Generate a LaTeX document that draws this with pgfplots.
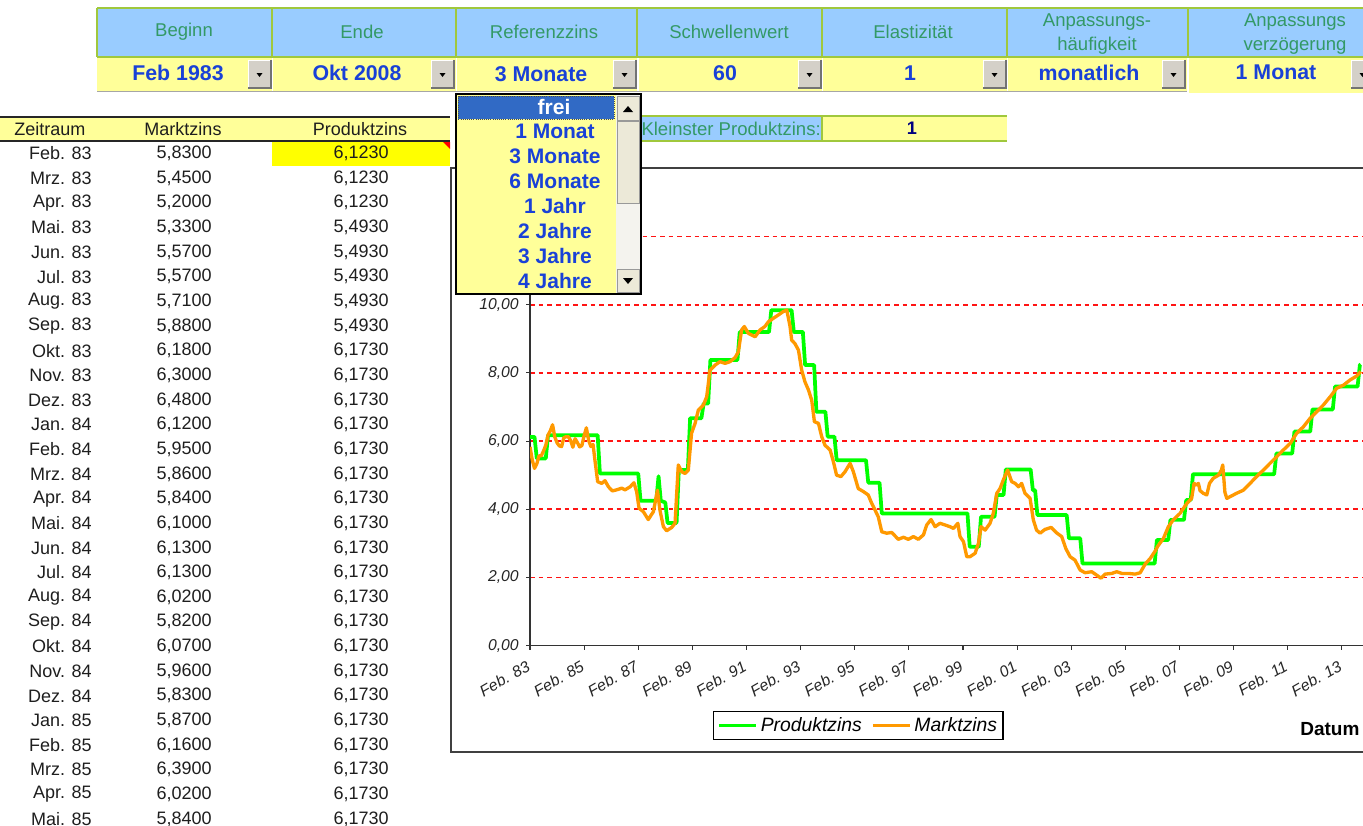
\documentclass[border=0pt]{standalone}
\usepackage{pgfplots}
\pgfplotsset{compat=1.18}
\usepackage{fontspec}
\setmainfont{Liberation Sans}
\definecolor{hdrblue}{RGB}{153,204,255}
\definecolor{hdrtext}{RGB}{51,153,102}
\definecolor{bordergreen}{RGB}{160,200,60}
\definecolor{cellyellow}{RGB}{255,255,153}
\definecolor{brightyellow}{RGB}{255,255,0}
\definecolor{valblue}{RGB}{25,65,215}
\definecolor{navyv}{RGB}{0,0,128}
\definecolor{btngray}{RGB}{212,208,200}
\definecolor{selblue}{RGB}{49,106,197}
\definecolor{scrolltrack}{RGB}{244,243,238}
\definecolor{scrollbtn}{RGB}{236,233,216}
\definecolor{prodgreen}{RGB}{0,255,0}
\definecolor{marktorange}{RGB}{255,153,0}
\definecolor{tabtxt}{RGB}{30,30,30}
\definecolor{gridred}{RGB}{255,20,20}
\newcommand\tblfont{\fontsize{13.5pt}{16pt}\selectfont}
\newcommand\hdrfont{\fontsize{13.9pt}{18.5pt}\selectfont}
\newcommand\valfont{\fontsize{16pt}{19pt}\selectfont\bfseries}
\newcommand\ddfont{\fontsize{15.75pt}{18pt}\selectfont\bfseries}
\newcommand\ticfont{\fontsize{11.8pt}{13pt}\selectfont\itshape}
\newcommand\legfont{\fontsize{14.5pt}{16pt}\selectfont\itshape}
\newcommand\datfont{\fontsize{14.25pt}{16pt}\selectfont\bfseries}
\newcommand\ddbtn[2]{%
  \fill[btngray] (#1,#2) rectangle ++(23,28);
  \draw[white, line width=0.75pt] (#1,#2+28) -- (#1,#2) -- (#1+23,#2);
  \draw[black!55, line width=0.9pt] (#1,#2+28) -- (#1+23,#2+28) -- (#1+23,#2);
  \fill[black] (#1+8.5,#2+13) -- (#1+14.5,#2+13) -- (#1+11.5,#2+17) -- cycle;
}
\begin{document}
\begin{tikzpicture}
\useasboundingbox (0pt,0pt) rectangle (1022.25pt,-618.75pt);
\begin{scope}
\clip (0pt,0pt) rectangle (1022.25pt,-618.75pt);
\begin{scope}[x=0.75pt,y=-0.75pt]
  \fill[hdrblue] (97,8) rectangle (1370,57);
  \draw[bordergreen, line width=1pt] (97,8) -- (1370,8);
  \foreach \xa in {97,272,456,637,822,1007,1188}
    \draw[bordergreen, line width=1pt] (\xa,8) -- (\xa,57);
  \node[font=\hdrfont, text=hdrtext] at (184,32) {Beginn};
  \node[font=\hdrfont, text=hdrtext] at (362,32) {Ende};
  \node[font=\hdrfont, text=hdrtext] at (544,32) {Referenzzins};
  \node[font=\hdrfont, text=hdrtext] at (729,32) {Schwellenwert};
  \node[font=\hdrfont, text=hdrtext] at (913,32) {Elastizität};
  \node[font=\hdrfont, text=hdrtext, align=center] at (1097,34) {Anpassungs-\\häufigkeit};
  \node[font=\hdrfont, text=hdrtext, align=center] at (1295,34) {Anpassungs\\verzögerung};
  \fill[cellyellow] (97,57) rectangle (272,91);
  \fill[cellyellow] (273,57) rectangle (456,91);
  \fill[cellyellow] (457,57) rectangle (637,91);
  \fill[cellyellow] (639,57) rectangle (822,91);
  \fill[cellyellow] (823,57) rectangle (1007,91);
  \fill[cellyellow] (1008,57) rectangle (1187,91);
  \fill[cellyellow] (1189,57) rectangle (1370,93);
  \draw[bordergreen, line width=1pt] (97,57) -- (1370,57);
  \draw[black!35, line width=1pt] (97,91.5) -- (1187,91.5);
  \ddbtn{248}{60}
  \ddbtn{431}{60}
  \ddbtn{613}{60}
  \ddbtn{798}{60}
  \ddbtn{983}{60}
  \ddbtn{1162}{60}
  \ddbtn{1351}{60}
  \node[font=\valfont, text=valblue] at (178,73) {Feb 1983};
  \node[font=\valfont, text=valblue] at (357,73) {Okt 2008};
  \node[font=\valfont, text=valblue] at (541,74) {3 Monate};
  \node[font=\valfont, text=valblue] at (725,73) {60};
  \node[font=\valfont, text=valblue] at (910,73) {1};
  \node[font=\valfont, text=valblue] at (1089,73) {monatlich};
  \node[font=\valfont, text=valblue] at (1276,72) {1 Monat};
  \fill[hdrblue] (637,116) rectangle (822,141);
  \fill[cellyellow] (822,116) rectangle (1007,141);
  \draw[bordergreen, line width=1pt] (637,116) -- (1007,116) (637,141) -- (1007,141) (822,116) -- (822,141);
  \node[anchor=east, inner sep=0pt, font=\hdrfont, text=hdrtext] at (821,129) {Kleinster Produktzins:};
  \node[font=\valfont, text=navyv, scale=0.85] at (912,128) {1};
  \fill[cellyellow] (0,117) rectangle (450,141);
  \draw[black!85, line width=1.2pt] (0,117) -- (450,117);
  \draw[black!85, line width=1.6pt] (0,141) -- (450,141);
  \node[anchor=west, inner sep=0pt, font=\tblfont, text=tabtxt] at (14,129) {Zeitraum};
  \node[inner sep=0pt, font=\tblfont, text=tabtxt] at (183,129) {Marktzins};
  \node[inner sep=0pt, font=\tblfont, text=tabtxt] at (360,129) {Produktzins};
  \fill[brightyellow] (272,142) rectangle (450,166);
  \fill[red] (443,142) -- (450,142) -- (450,149) -- cycle;
  \foreach \zr/\mz/\pz [count=\ii from 0] in {
    Feb. 83/{5,8300}/{6,1230}, Mrz. 83/{5,4500}/{6,1230}, Apr. 83/{5,2000}/{6,1230},
    Mai. 83/{5,3300}/{5,4930}, Jun. 83/{5,5700}/{5,4930}, Jul. 83/{5,5700}/{5,4930},
    Aug. 83/{5,7100}/{5,4930}, Sep. 83/{5,8800}/{5,4930}, Okt. 83/{6,1800}/{6,1730},
    Nov. 83/{6,3000}/{6,1730}, Dez. 83/{6,4800}/{6,1730}, Jan. 84/{6,1200}/{6,1730},
    Feb. 84/{5,9500}/{6,1730}, Mrz. 84/{5,8600}/{6,1730}, Apr. 84/{5,8400}/{6,1730},
    Mai. 84/{6,1000}/{6,1730}, Jun. 84/{6,1300}/{6,1730}, Jul. 84/{6,1300}/{6,1730},
    Aug. 84/{6,0200}/{6,1730}, Sep. 84/{5,8200}/{6,1730}, Okt. 84/{6,0700}/{6,1730},
    Nov. 84/{5,9600}/{6,1730}, Dez. 84/{5,8300}/{6,1730}, Jan. 85/{5,8700}/{6,1730},
    Feb. 85/{6,1600}/{6,1730}, Mrz. 85/{6,3900}/{6,1730}, Apr. 85/{6,0200}/{6,1730},
    Mai. 85/{5,8400}/{6,1730}} {
    \node[anchor=east, inner sep=0pt, font=\tblfont, text=tabtxt] at (92,{153.5+24.65*\ii}) {\zr};
    \node[anchor=east, inner sep=0pt, font=\tblfont, text=tabtxt] at (212,{153.5+24.65*\ii}) {\mz};
    \node[anchor=east, inner sep=0pt, font=\tblfont, text=tabtxt] at (389,{153.5+24.65*\ii}) {\pz};
  }
  \fill[white] (451,168) rectangle (1420,752);
  \draw[black!75, line width=1.4pt] (451,168) rectangle (1420,752);
  \node[anchor=west, inner sep=0pt, font=\datfont, text=black] at (1300,729) {Datum};
\end{scope}

\begin{axis}[
  at={(397.5pt,-484.275pt)}, anchor=south west,
  scale only axis, width=633.2pt, height=306.9pt,
  xmin=0, xmax=31.2, ymin=0, ymax=12,
  axis x line=bottom, axis y line=left,
  axis line style={-, line width=1.1pt, color=black!80},
  xtick={0,2,...,30},
  xticklabels={Feb. 83,Feb. 85,Feb. 87,Feb. 89,Feb. 91,Feb. 93,Feb. 95,Feb. 97,Feb. 99,Feb. 01,Feb. 03,Feb. 05,Feb. 07,Feb. 09,Feb. 11,Feb. 13},
  ytick={2,4,...,12},
  yticklabels={{2,00},{4,00},{6,00},{8,00},{10,00},{12,00}},
  extra y ticks={0},
  extra y tick labels={0{,}00},
  extra y tick style={grid=none},
  tick align=outside, major tick length=3pt,
  tick style={line width=0.8pt, black!80},
  ymajorgrids,
  major grid style={draw=gridred, line width=1.3pt, dash pattern=on 3.5pt off 3pt},
  x tick label style={font=\ticfont, text=black!85, xshift=-3pt, yshift=-6pt, rotate=30, anchor=north east, inner sep=1pt},
  y tick label style={font=\ticfont, text=black!85, xshift=-2pt},
  legend style={at={(0.389,-0.195)}, anchor=center, draw=black, line width=1.1pt,
    font=\legfont, legend columns=2, inner sep=2.5pt,
    /tikz/every even column/.append style={column sep=5pt}},
  legend image code/.code={\draw[#1] (0pt,0pt) -- (28pt,0pt);},
]
\addplot[prodgreen, line width=2.8pt, line join=round] coordinates {
(0,6.123) (0.1667,6.123) (0.25,5.493) (0.5833,5.493) (0.6667,6.173) (2.5,6.173)
(2.5833,5.05) (4.0,5.05) (4.0833,4.25) (4.6667,4.25) (4.75,4.97) (4.8333,4.25)
(5.0,4.20) (5.0833,3.60) (5.4167,3.60) (5.5,5.15) (5.8333,5.15) (5.9167,6.67)
(6.3333,6.67) (6.4167,7.10) (6.5833,7.10) (6.6667,8.38) (7.6667,8.38) (7.75,9.20)
(8.8333,9.20) (8.9167,9.84) (9.6667,9.84) (9.75,9.20) (10.0833,9.20) (10.1667,8.23)
(10.5,8.23) (10.5833,6.86) (10.9167,6.86) (11.0,6.13) (11.25,6.13) (11.3333,5.44)
(12.4167,5.44) (12.5,4.78) (12.9167,4.78) (13.0,3.88) (16.1667,3.88) (16.25,2.90)
(16.5833,2.90) (16.6667,3.78) (17.1667,3.78) (17.25,4.42) (17.5,4.42) (17.5833,5.17)
(18.5,5.17) (18.5833,4.56) (18.6667,4.56) (18.75,3.83) (19.8333,3.83) (19.9167,3.15)
(20.3333,3.15) (20.4167,2.41) (23.0833,2.41) (23.1667,3.10) (23.5833,3.10) (23.6667,3.69)
(24.1667,3.69) (24.25,4.27) (24.4167,4.27) (24.5,5.03) (27.5,5.03) (27.5833,5.64)
(28.1667,5.64) (28.25,6.28) (28.8333,6.28) (28.9167,6.93) (29.6667,6.93) (29.75,7.60)
(30.5833,7.60) (30.6667,8.23) (30.70,8.25)
};
\addlegendentry{Produktzins}
\addplot[marktorange, line width=2.5pt, line join=round] coordinates {
(0,5.83) (0.0833,5.45) (0.1667,5.20) (0.25,5.33) (0.3333,5.57) (0.4167,5.57) (0.5,5.71)
(0.5833,5.88) (0.6667,6.18) (0.75,6.30) (0.8333,6.48) (0.9167,6.12) (1.0,5.95) (1.0833,5.86)
(1.1667,5.84) (1.25,6.10) (1.3333,6.13) (1.4167,6.13) (1.5,6.02) (1.5833,5.82) (1.6667,6.07)
(1.75,5.96) (1.8333,5.83) (1.9167,5.87) (2.0,6.16) (2.0833,6.39) (2.1667,6.02) (2.25,5.84)
(2.33,5.90) (2.40,5.44) (2.50,4.81) (2.65,4.76) (2.77,4.84) (2.90,4.66) (3.04,4.54)
(3.20,4.57) (3.39,4.62) (3.51,4.57) (3.70,4.66) (3.84,4.78) (3.94,4.52) (4.03,4.03)
(4.19,3.93) (4.37,3.70) (4.56,3.93) (4.71,4.56) (4.80,3.98) (4.93,3.49) (5.05,3.37)
(5.24,3.47) (5.36,3.59) (5.48,5.30) (5.61,5.10) (5.73,5.05) (5.85,5.15) (5.97,6.23)
(6.10,6.52) (6.22,6.91) (6.41,7.06) (6.53,7.30) (6.65,8.08) (6.84,8.23) (7.02,8.33)
(7.21,8.28) (7.39,8.33) (7.58,8.45) (7.70,8.62) (7.82,9.26) (7.92,9.36) (8.07,9.16)
(8.32,9.06) (8.50,9.26) (8.68,9.36) (8.81,9.50) (8.99,9.60) (9.18,9.70) (9.36,9.80)
(9.49,9.84) (9.61,9.36) (9.67,8.96) (9.79,8.86) (9.92,8.67) (10.04,8.08) (10.16,7.74)
(10.29,7.50) (10.41,7.20) (10.51,6.57) (10.66,6.52) (10.78,6.13) (10.90,5.88) (11.09,5.74)
(11.21,5.40) (11.33,5.00) (11.49,4.96) (11.64,5.10) (11.83,5.35) (11.95,5.10) (12.13,4.61)
(12.32,4.52) (12.50,4.42) (12.63,4.17) (12.75,3.98) (12.87,3.78) (13.00,3.34) (13.18,3.30)
(13.37,3.32) (13.61,3.12) (13.80,3.18) (13.98,3.12) (14.17,3.20) (14.35,3.12) (14.54,3.25)
(14.66,3.54) (14.82,3.70) (14.97,3.49) (15.15,3.59) (15.34,3.54) (15.52,3.49) (15.65,3.44)
(15.81,3.59) (15.89,3.20) (16.02,3.05) (16.14,2.61) (16.26,2.61) (16.45,2.71) (16.57,3.00)
(16.67,3.49) (16.82,3.39) (17.00,3.59) (17.12,3.88) (17.25,4.47) (17.37,4.61) (17.49,4.86)
(17.65,5.15) (17.80,4.81) (17.93,4.76) (18.05,4.66) (18.17,4.76) (18.29,4.47) (18.48,4.32)
(18.60,3.69) (18.72,3.39) (18.85,3.30) (19.03,3.41) (19.26,3.47) (19.46,3.31) (19.65,3.20)
(19.80,2.85) (19.96,2.61) (20.14,2.51) (20.33,2.22) (20.51,2.14) (20.76,2.17) (20.94,2.07)
(21.10,1.98) (21.25,2.10) (21.50,2.12) (21.68,2.17) (21.87,2.12) (22.11,2.12) (22.36,2.10)
(22.55,2.14) (22.73,2.39) (22.92,2.56) (23.09,2.76) (23.20,2.92) (23.41,3.15) (23.59,3.49)
(23.77,3.69) (24.02,3.88) (24.27,4.17) (24.45,4.32) (24.54,4.76) (24.64,4.71) (24.70,4.76)
(24.76,4.55) (24.88,4.47) (25.01,4.42) (25.11,4.76) (25.25,4.91) (25.44,5.00) (25.55,5.15)
(25.60,5.30) (25.68,4.50) (25.75,4.32) (25.87,4.37) (26.11,4.47) (26.36,4.56) (26.61,4.76)
(26.85,4.96) (27.10,5.15) (27.35,5.35) (27.59,5.54) (27.84,5.74) (28.09,5.93) (28.33,6.23)
(28.58,6.42) (28.83,6.67) (29.07,6.86) (29.32,7.06) (29.57,7.30) (29.81,7.55) (30.06,7.64)
(30.30,7.79) (30.55,7.91) (30.70,8.04)
};
\addlegendentry{Marktzins}
\end{axis}

\begin{scope}[x=0.75pt,y=-0.75pt]
  \fill[cellyellow] (456,94) rectangle (641,294);
  \fill[scrolltrack] (616,95) rectangle (640,293);
  \fill[scrollbtn] (617,96) rectangle (639,120);
  \draw[black!40, line width=0.6pt] (617,96) rectangle (639,120);
  \fill[black] (623,112) -- (633,112) -- (628,106) -- cycle;
  \fill[scrollbtn] (617,121) rectangle (639,203);
  \draw[black!40, line width=0.6pt] (617,121) rectangle (639,203);
  \fill[scrollbtn] (617,269) rectangle (639,292);
  \draw[black!40, line width=0.6pt] (617,269) rectangle (639,292);
  \fill[black] (623,278) -- (633,278) -- (628,284) -- cycle;
  \fill[selblue] (458,96) rectangle (614,119);
  \draw[black!70, densely dotted, line width=0.6pt] (458,96) rectangle (614,119);
  \node[font=\ddfont, text=white] at (554,107) {frei};
  \foreach \tt [count=\kk] in {1 Monat,3 Monate,6 Monate,1 Jahr,2 Jahre,3 Jahre,4 Jahre}
    \node[font=\ddfont, text=valblue] at (555,{107+24.8*\kk}) {\tt};
  \draw[black, line width=1.2pt] (456,94) rectangle (641,294);
\end{scope}
\end{scope}
\end{tikzpicture}
\end{document}
